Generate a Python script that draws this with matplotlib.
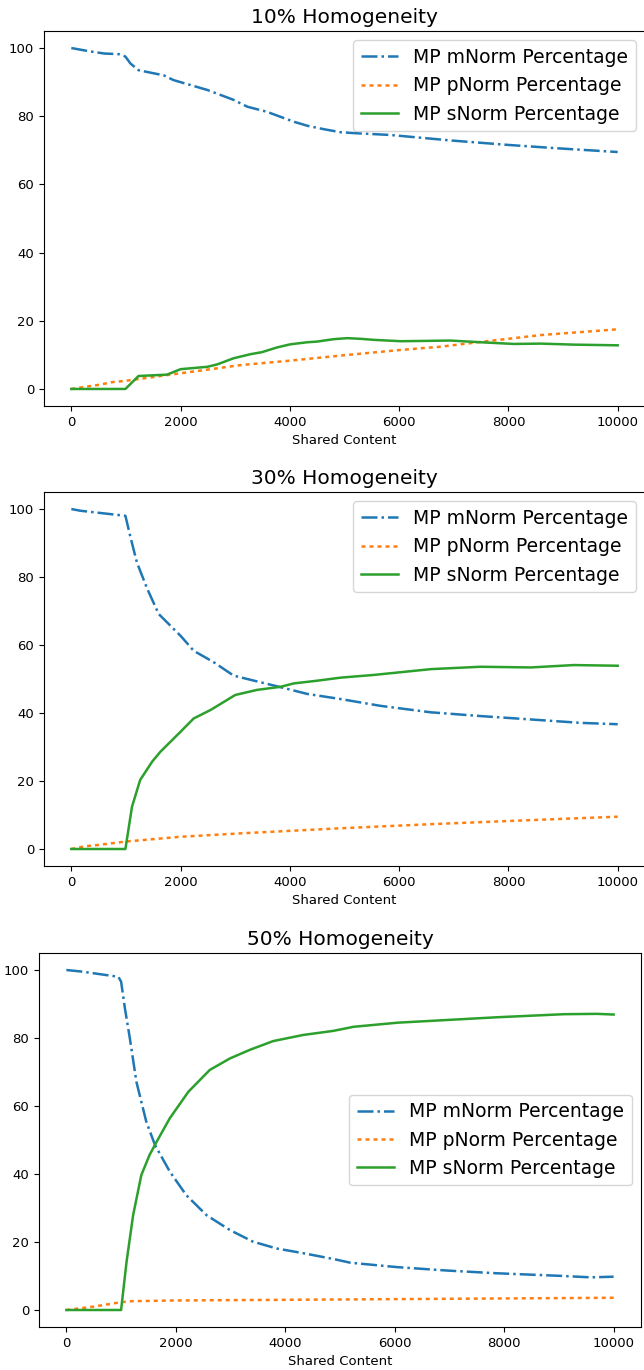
import matplotlib
matplotlib.use("Agg")
import matplotlib.pyplot as plt

W, H = 644, 1370

titles = ["10% Homogeneity", "30% Homogeneity", "50% Homogeneity"]
labels = ["MP mNorm Percentage", "MP pNorm Percentage", "MP sNorm Percentage"]

# 10% homogeneity
m10_x = [0, 350, 600, 870, 990, 1080, 1230, 1690, 1870, 2490, 2970, 3220, 3580, 4070,
         4320, 4620, 4930, 5230, 5840, 6940, 7980, 8890, 10000]
m10_y = [100, 99.0, 98.4, 98.2, 97.5, 95.5, 93.5, 92.0, 90.6, 87.7, 84.8, 82.8, 81.3, 78.4,
         77.2, 76.2, 75.3, 75.0, 74.5, 72.9, 71.6, 70.6, 69.5]
p10_x = [0, 250, 500, 750, 1000, 2000, 3100, 4000, 5000, 6000, 6760, 7550, 8590, 10000]
p10_y = [0, 0.6, 1.2, 2.0, 2.4, 4.6, 7.0, 8.3, 9.9, 11.4, 12.4, 13.9, 15.8, 17.5]
s10_x = [0, 990, 1230, 1750, 2000, 2490, 2670, 2970, 3280, 3490, 3770, 4010, 4320, 4500,
         4800, 5050, 5300, 5540, 6030, 6940, 7490, 8100, 8590, 9200, 10000]
s10_y = [0, 0, 3.8, 4.2, 5.8, 6.5, 7.2, 9.0, 10.2, 10.8, 12.2, 13.1, 13.7, 13.9,
         14.6, 14.9, 14.7, 14.4, 14.0, 14.2, 13.7, 13.2, 13.3, 13.0, 12.8]

# 30% homogeneity
m30_x = [0, 160, 990, 1080, 1200, 1390, 1600, 2000, 2240, 2610, 2970, 3220, 3830, 4320,
         4930, 5660, 6580, 7490, 8410, 9320, 10000]
m30_y = [100, 99.5, 98.0, 91.9, 84.3, 76.5, 69.1, 62.7, 58.3, 54.9, 51.0, 50.0, 47.6, 45.6,
         44.1, 42.1, 40.2, 39.1, 38.1, 37.1, 36.7]
p30_x = [0, 250, 500, 1000, 2000, 3100, 4930, 6580, 8410, 10000]
p30_y = [0, 0.8, 1.2, 2.2, 3.6, 4.6, 6.1, 7.3, 8.5, 9.5]
s30_x = [0, 990, 1110, 1260, 1480, 1630, 2000, 2240, 2550, 3000, 3400, 3830, 4070, 4500,
         4930, 5540, 6580, 7490, 8410, 9200, 10000]
s30_y = [0, 0, 12.4, 20.3, 25.7, 28.6, 34.5, 38.4, 40.9, 45.3, 46.8, 47.7, 48.7, 49.5,
         50.4, 51.2, 52.9, 53.6, 53.4, 54.1, 53.9]

# 50% homogeneity
m50_x = [0, 300, 950, 1000, 1070, 1160, 1280, 1460, 1620, 1890, 2190, 2560, 2990, 3410,
         3840, 4330, 4880, 5190, 6050, 6960, 7870, 9090, 9580, 10000]
m50_y = [100, 99.5, 98.0, 96.6, 88.7, 79.9, 67.1, 55.4, 48.5, 40.7, 33.8, 27.9, 23.5, 20.1,
         18.1, 16.7, 15.0, 13.9, 12.6, 11.6, 10.8, 10.0, 9.6, 9.8]
p50_x = [0, 500, 1000, 1200, 2000, 4000, 6000, 8000, 10000]
p50_y = [0, 1.0, 2.3, 2.6, 2.8, 3.0, 3.2, 3.4, 3.6]
s50_x = [0, 1000, 1100, 1220, 1370, 1520, 1650, 1890, 2230, 2620, 2990, 3350, 3780, 4330,
         4880, 5250, 6050, 6960, 7870, 9090, 9700, 10000]
s50_y = [0, 0, 14.2, 27.9, 39.7, 45.6, 49.5, 56.4, 64.2, 70.6, 74.0, 76.5, 79.1, 80.9,
         82.1, 83.3, 84.5, 85.3, 86.1, 87.0, 87.1, 86.9]

panels = [
    (m10_x, m10_y, p10_x, p10_y, s10_x, s10_y),
    (m30_x, m30_y, p30_x, p30_y, s30_x, s30_y),
    (m50_x, m50_y, p50_x, p50_y, s50_x, s50_y),
]

# axes boxes in pixels: left, top, right, bottom
boxes = [(44, 31, 645, 406), (44, 492, 645, 866), (39, 953, 641, 1327)]
legend_locs = ["upper right", "upper right", "center right"]

fig = plt.figure(figsize=(W / 100, H / 100), dpi=100)
for (mx, my, px, py, sx, sy), (l, t, r, b), title, loc in zip(panels, boxes, titles, legend_locs):
    ax = fig.add_axes([l / W, 1 - b / H, (r - l) / W, (b - t) / H])
    ax.plot(mx, my, "-.", color="tab:blue", lw=1.8, label=labels[0])
    ax.plot(px, py, color="tab:orange", lw=1.8, dashes=(1.6, 1.6), label=labels[1])
    ax.plot(sx, sy, "-", color="tab:green", lw=1.8, label=labels[2])
    ax.set_title(title, fontsize=14.5)
    ax.set_xlabel("Shared Content", fontsize=9.5)
    ax.set_xticks([0, 2000, 4000, 6000, 8000, 10000])
    ax.set_yticks([0, 20, 40, 60, 80, 100])
    ax.tick_params(labelsize=9.5)
    ax.legend(loc=loc, fontsize=13.5)

fig.savefig("out.png", dpi=100)
